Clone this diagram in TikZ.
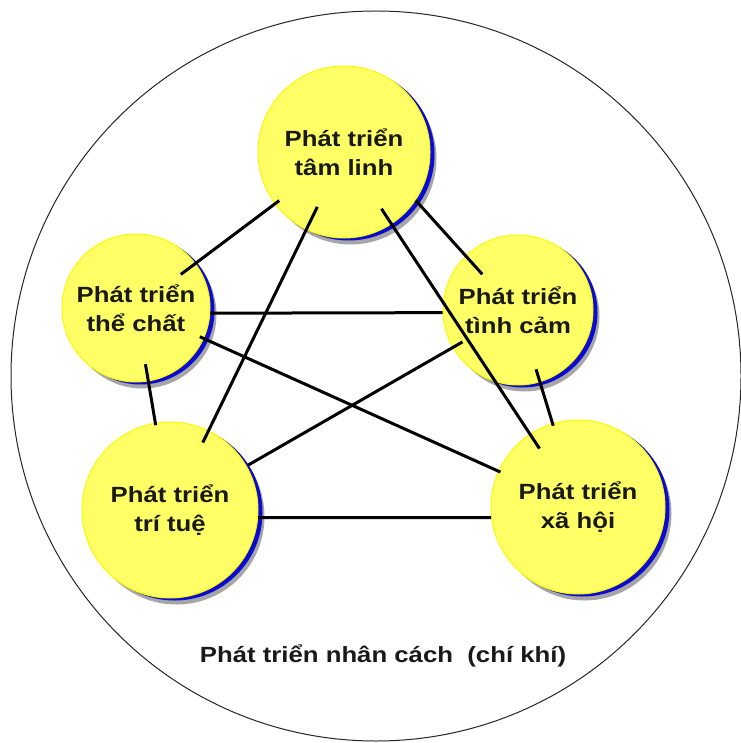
\documentclass[tikz,border=0pt]{standalone}
\usepackage{fontspec}
\setmainfont{Liberation Sans}[FakeStretch=1.17]
\usetikzlibrary{shadows}
\definecolor{bubblefill}{RGB}{255,255,102}
\definecolor{bubbleedge}{RGB}{250,250,0}
\definecolor{rimblue}{RGB}{10,10,210}
\tikzset{
  bubble/.style={
    circle, minimum size=#1, inner sep=0pt,
    fill=bubblefill, draw=bubbleedge, line width=1pt,
    align=center, text=black!90,
    font=\bfseries\fontsize{22}{29}\selectfont,
    drop shadow={shadow xshift=6.5pt, shadow yshift=-6.5pt, fill=black, opacity=.35},
    general shadow={shadow xshift=4.5pt, shadow yshift=-2.5pt, fill=rimblue}
  },
  link/.style={line width=3pt, black}
}

\begin{document}
\begin{tikzpicture}[x=1pt, y=-1pt]
  \useasboundingbox (0,0) rectangle (740,743);
  \draw[black!85, line width=1pt] (376,376) circle[radius=365];

  \node[bubble=172pt] (tam)  at (344,152) {Phát triển\\tâm linh};
  \node[bubble=148pt] (the)  at (136,308) {Phát triển\\thể chất};
  \node[bubble=150pt] (tinh) at (518,310) {Phát triển\\tình cảm};
  \node[bubble=176pt] (tri)  at (170,510) {Phát triển\\trí tuệ};
  \node[bubble=174pt] (xa)   at (578,507) {Phát triển\\xã hội};

  \foreach \a/\b/\s/\e in {tam/the/81/56, tam/tri/61/75, tam/xa/68/70,
      the/xa/70/85, tinh/tri/64/90, tinh/xa/62/85, the/tri/57/86}
    \draw[link, shorten <=\s pt, shorten >=\e pt] (\a.center) -- (\b.center);
  \draw[link, shorten >=-25pt] (tam.-34) -- (tinh.134);
  \draw[link] (the.-4) -- (tinh.182);
  \draw[link] (tri.-5) -- (xa.187);

  \node[font=\bfseries\fontsize{22}{29}\selectfont, text=black!90] (caption)
    at (383,656) {Phát triển nhân cách~~(chí khí)};
\end{tikzpicture}
\end{document}
